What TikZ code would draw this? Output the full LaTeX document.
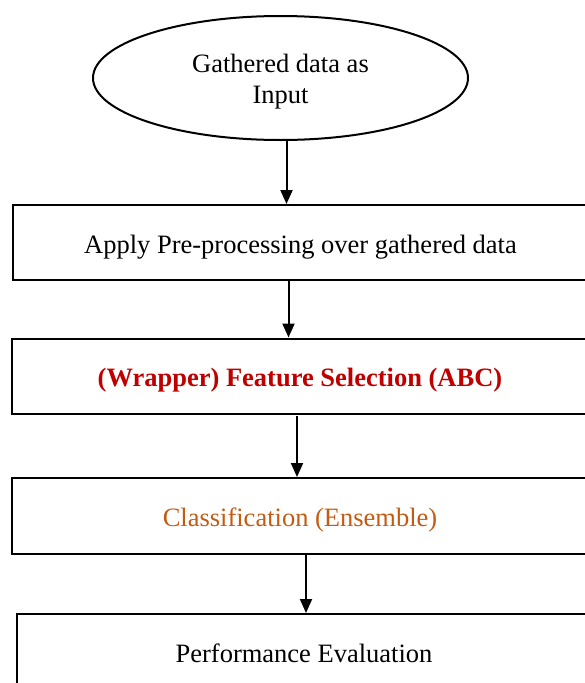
\documentclass[tikz,border=0pt]{standalone}
\usepackage{fontspec}
\setmainfont{Liberation Serif}
\usetikzlibrary{arrows.meta,shapes.geometric}
\definecolor{selred}{HTML}{C00000}
\definecolor{clsorange}{HTML}{C55A11}
\tikzset{
  flowbox/.style={draw=black, line width=2pt, rectangle, inner sep=0pt,
    text height=21pt, text depth=0pt,
    font=\fontsize{26.5}{30.6}\selectfont},
  startnode/.style={draw=black, line width=2pt, ellipse, inner sep=0pt,
    minimum width=375pt, minimum height=124pt,
    font=\fontsize{26.5}{30.6}\selectfont},
  flowarrow/.style={line width=2pt, -{Triangle[width=12pt,length=14pt]}}
}
\begin{document}
\begin{tikzpicture}[x=1pt,y=-1pt]
  \useasboundingbox (0,0) rectangle (585,683);
  % start ellipse, two centred lines
  \node[startnode] (input) at (280.5,78)
    {\raisebox{0pt}[50.6pt][0pt]{\begin{tabular}[b]{@{}c@{}}Gathered data as\\Input\end{tabular}}};
  % process boxes (running off the right edge)
  \node[flowbox, minimum width=575pt, minimum height=75pt] (pre) at (300.5,242.5)
    {Apply Pre-processing over gathered data};
  \node[flowbox, minimum width=577pt, minimum height=75pt, text=selred,
    font=\fontsize{26.5}{30.6}\selectfont\bfseries] (fs) at (300,376)
    {(Wrapper) Feature Selection (ABC)};
  \node[flowbox, minimum width=576pt, minimum height=76pt, text=clsorange] (cls) at (300,516)
    {Classification (Ensemble)};
  \node[flowbox, minimum width=574pt, minimum height=76pt] (perf) at (304,652)
    {Performance Evaluation};
  % arrow columns
  \coordinate (c1) at (286.5,0);
  \coordinate (c2) at (288.5,0);
  \coordinate (c3) at (297,0);
  \coordinate (c4) at (306,0);
  \coordinate (s3) at (297,416);
  \draw[flowarrow] (input.south -| c1) -- (pre.north -| c1);
  \draw[flowarrow] (pre.south -| c2) -- (fs.north -| c2);
  \draw[flowarrow] (s3) -- (cls.north -| c3);
  \draw[flowarrow] (cls.south -| c4) -- (perf.north -| c4);
\end{tikzpicture}
\end{document}
